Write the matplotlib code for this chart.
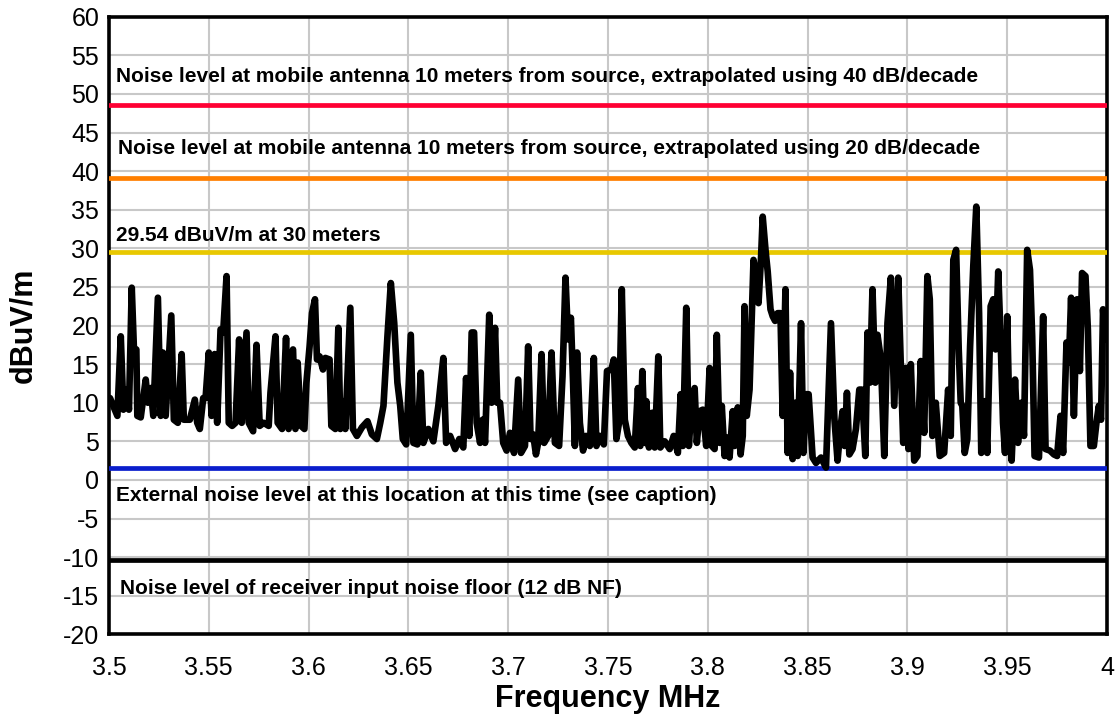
import matplotlib
matplotlib.use('Agg')
import matplotlib.pyplot as plt
import numpy as np

plt.rcParams['font.family'] = ['Liberation Sans', 'DejaVu Sans']
plt.rcParams['axes.unicode_minus'] = False

# Barrido medido (frecuencia en MHz, nivel en dBuV/m)
freq_mhz = [
    3.5005, 3.5042, 3.5059, 3.5072, 3.5089, 3.5100, 3.5114, 3.5125, 3.5137, 3.5142,
    3.5159, 3.5184, 3.5195, 3.5209, 3.5222, 3.5245, 3.5259, 3.5270, 3.5284, 3.5312,
    3.5325, 3.5345, 3.5364, 3.5375, 3.5405, 3.5430, 3.5442, 3.5455, 3.5472, 3.5484,
    3.5500, 3.5514, 3.5529, 3.5542, 3.5559, 3.5572, 3.5589, 3.5600, 3.5617, 3.5634,
    3.5652, 3.5665, 3.5689, 3.5700, 3.5722, 3.5739, 3.5755, 3.5775, 3.5800,
    3.5809, 3.5834, 3.5845, 3.5867, 3.5887, 3.5900, 3.5922, 3.5934, 3.5945, 3.5962,
    3.5979, 3.5989, 3.6005, 3.6017, 3.6032, 3.6042, 3.6055, 3.6072, 3.6084, 3.6105,
    3.6114, 3.6134, 3.6149, 3.6159, 3.6172, 3.6184, 3.6209, 3.6222, 3.6242, 3.6267,
    3.6295, 3.6317, 3.6342, 3.6359, 3.6375, 3.6395, 3.6412, 3.6429, 3.6445, 3.6459,
    3.6472, 3.6489, 3.6512, 3.6525, 3.6545, 3.6562, 3.6575, 3.6600, 3.6625, 3.6650,
    3.6675, 3.6689, 3.6709, 3.6734, 3.6755, 3.6775, 3.6789, 3.6805, 3.6817, 3.6829,
    3.6842, 3.6859, 3.6872, 3.6884, 3.6905, 3.6917, 3.6934, 3.6945, 3.6959, 3.6975,
    3.6992, 3.7009, 3.7029, 3.7050, 3.7064, 3.7084, 3.7100, 3.7112, 3.7125, 3.7139,
    3.7150, 3.7167, 3.7180, 3.7200, 3.7217, 3.7234, 3.7255, 3.7272, 3.7287, 3.7300,
    3.7314, 3.7325, 3.7334, 3.7345, 3.7359, 3.7375, 3.7389, 3.7409, 3.7429, 3.7442,
    3.7459, 3.7479, 3.7495,
    3.7517, 3.7529, 3.7542, 3.7555, 3.7569, 3.7584, 3.7600, 3.7617, 3.7634, 3.7650,
    3.7662, 3.7672, 3.7684, 3.7692, 3.7705, 3.7722, 3.7734, 3.7752, 3.7762, 3.7784,
    3.7809, 3.7829, 3.7850, 3.7864, 3.7875, 3.7892, 3.7905, 3.7919, 3.7934, 3.7945,
    3.7959, 3.7975, 3.7992, 3.8009, 3.8020, 3.8034, 3.8045, 3.8059, 3.8070, 3.8084,
    3.8095, 3.8109, 3.8125, 3.8134, 3.8150, 3.8164, 3.8175, 3.8184, 3.8195, 3.8209,
    3.8229, 3.8242, 3.8254, 3.8267, 3.8275, 3.8289, 3.8300, 3.8314, 3.8325, 3.8337,
    3.8350, 3.8364,
    3.8375, 3.8389, 3.8400, 3.8412, 3.8425, 3.8439, 3.8450, 3.8467, 3.8479, 3.8492,
    3.8505, 3.8525, 3.8542, 3.8567, 3.8592, 3.8617, 3.8634, 3.8650, 3.8664, 3.8675,
    3.8685, 3.8697, 3.8709, 3.8725, 3.8742, 3.8759, 3.8772, 3.8789, 3.8800, 3.8812,
    3.8825, 3.8839, 3.8850, 3.8867, 3.8884, 3.8900, 3.8917, 3.8934, 3.8954, 3.8967,
    3.8979, 3.8992, 3.9005, 3.9017, 3.9034, 3.9050, 3.9067, 3.9084, 3.9100, 3.9112,
    3.9125, 3.9142, 3.9162,
    3.9184, 3.9204, 3.9217, 3.9230, 3.9244, 3.9257, 3.9267, 3.9275, 3.9287, 3.9300,
    3.9314, 3.9330, 3.9345, 3.9359, 3.9370, 3.9387, 3.9400, 3.9417, 3.9430, 3.9442,
    3.9455, 3.9467, 3.9479, 3.9489, 3.9500, 3.9512, 3.9522, 3.9539, 3.9554, 3.9570,
    3.9584, 3.9600, 3.9614, 3.9625, 3.9637, 3.9659, 3.9680, 3.9692, 3.9714, 3.9734,
    3.9750, 3.9767, 3.9780, 3.9797, 3.9809, 3.9820, 3.9834, 3.9850, 3.9864, 3.9875,
    3.9892, 3.9904, 3.9917, 3.9934, 3.9947, 3.9959, 3.9970, 3.9980, 3.9990,
]
level_dbuv = [
    10.6, 8.3, 18.6, 9.1, 11.7, 9.1, 24.9, 16.9, 16.9, 8.3,
    8.1, 13.0, 10.0, 11.9, 8.3, 23.6, 8.3, 16.5, 8.3, 21.3,
    7.8, 7.4, 16.3, 7.8, 7.8, 10.4, 7.4, 6.6, 10.6, 10.6,
    16.5, 8.3, 16.3, 7.4, 19.5, 19.1, 26.4, 7.4, 7.0, 7.4,
    18.2, 7.4, 19.1, 7.4, 6.3, 17.5, 7.0, 7.4, 7.0,
    11.3, 18.6, 7.4, 6.6, 18.4, 6.6, 16.9, 6.6, 15.2, 7.0,
    6.6, 12.6, 17.3, 21.6, 23.4, 15.6, 16.0, 14.3, 15.8, 15.6,
    7.0, 6.6, 19.7, 6.6, 10.2, 6.6, 22.3, 6.6, 5.7, 6.8,
    7.6, 5.9, 5.3, 7.4, 9.6, 18.6, 25.5, 20.3, 12.6, 9.6,
    5.3, 4.6, 18.8, 4.8, 4.6, 13.9, 4.8, 6.6, 5.0, 9.6,
    15.8, 4.8, 5.7, 4.0, 5.3, 4.2, 13.2, 5.7, 19.1, 19.1,
    7.4, 4.8, 7.8, 4.8, 21.4, 10.0, 19.7, 10.0, 10.0, 4.8,
    3.8, 6.1, 3.5, 13.0, 3.5, 4.4, 17.3, 5.3, 5.9, 3.3,
    4.8, 16.3, 4.8, 5.7, 16.5, 4.8, 4.4, 13.4, 26.2, 18.2,
    21.0, 12.6, 4.4, 16.5, 7.4, 3.8, 5.7, 4.4, 15.8, 4.4,
    5.7, 4.6, 14.1,
    14.3, 15.6, 5.3, 7.4, 24.7, 7.8, 5.7, 4.8, 4.2, 11.9,
    4.4, 14.1, 4.8, 10.2, 4.2, 8.7, 4.2, 16.0, 4.2, 5.0,
    4.0, 5.7, 3.5, 11.1, 4.4, 22.3, 4.4, 10.0, 11.9, 4.8,
    8.9, 9.1, 4.4, 14.5, 4.4, 4.0, 18.8, 4.8, 9.6, 3.1,
    5.5, 2.9, 8.9, 4.4, 9.4, 3.3, 5.7, 22.5, 8.3, 11.7,
    28.5, 26.4, 22.9, 29.0, 34.1, 29.8, 27.0, 22.1, 21.2, 20.6,
    21.6, 21.6,
    8.3, 24.7, 3.5, 13.9, 2.7, 10.0, 3.1, 20.3, 3.5, 11.1,
    11.1, 2.9, 2.2, 2.9, 1.6, 20.3, 8.0, 2.5, 6.6, 8.9,
    4.4, 11.3, 3.3, 4.0, 6.6, 11.7, 11.7, 3.1, 19.1, 12.6,
    24.7, 12.6, 18.8, 15.6, 3.1, 20.3, 26.2, 9.6, 26.2, 14.7,
    4.8, 14.5, 4.0, 15.0, 2.5, 3.1, 15.4, 6.1, 26.4, 23.4,
    5.7, 10.0, 3.1,
    3.5, 11.7, 5.7, 28.5, 29.8, 16.9, 10.0, 9.6, 3.5, 5.3,
    17.3, 27.7, 35.4, 21.6, 3.5, 10.2, 3.5, 22.5, 23.4, 16.9,
    27.0, 18.2, 7.4, 3.5, 21.2, 6.6, 2.5, 13.0, 4.8, 10.0,
    5.7, 29.8, 27.2, 18.6, 3.1, 2.9, 21.2, 4.0, 3.8, 3.3,
    3.1, 8.3, 3.5, 17.8, 15.2, 23.6, 8.3, 23.4, 14.1, 26.8,
    26.4, 19.5, 4.4, 4.4, 7.4, 9.6, 7.8, 22.1, 18.2,
]

# Niveles de referencia (lineas horizontales) y sus textos
ref_levels = [48.6, 39.1, 29.54, 1.5, -10.4]
ref_colors = ['#ff0033', '#ff7f00', '#e8c800', '#0a1ecc', '#000000']
ref_texts = [
    'Noise level at mobile antenna 10 meters from source, extrapolated using 40 dB/decade',
    'Noise level at mobile antenna 10 meters from source, extrapolated using 20 dB/decade',
    '29.54 dBuV/m at 30 meters',
    'External noise level at this location at this time (see caption)',
    'Noise level of receiver input noise floor (12 dB NF)',
]
text_x = [3.5035, 3.5045, 3.5035, 3.5035, 3.5053]
text_y = [52.2, 42.9, 31.6, -2.0, -14.0]

fig = plt.figure(figsize=(11.19, 7.17), dpi=100)
ax = fig.add_axes([0.0974, 0.1153, 0.8919, 0.8614])

for lvl, col in zip(ref_levels, ref_colors):
    ax.axhline(lvl, color=col, lw=3.4, zorder=3)

ax.plot(freq_mhz, level_dbuv, color='black', lw=4.8, solid_joinstyle='round',
        solid_capstyle='round', zorder=4)

for tx, ty, t in zip(text_x, text_y, ref_texts):
    ax.text(tx, ty, t, fontsize=15, fontweight='bold', va='center', ha='left', zorder=5)

ax.set_xlim(3.5, 4.0)
ax.set_ylim(-20, 60)
ax.set_xticks(np.arange(3.5, 4.0001, 0.05))
ax.set_xticklabels(['3.5', '3.55', '3.6', '3.65', '3.7', '3.75', '3.8', '3.85', '3.9', '3.95', '4'])
ax.set_yticks(np.arange(-20, 61, 5))
ax.tick_params(length=0, labelsize=18)
ax.tick_params(axis='y', pad=7)
ax.tick_params(axis='x', pad=15.5)
ax.grid(True, color='#c8c8c8', lw=1.5, zorder=0)
ax.set_axisbelow(True)
for s in ax.spines.values():
    s.set_linewidth(2.6)
    s.set_color('black')

ax.set_xlabel('Frequency MHz', fontsize=22, fontweight='bold', labelpad=3)
ax.set_ylabel('dBuV/m', fontsize=22, fontweight='bold', labelpad=18)

plt.savefig('out.png', dpi=100)
